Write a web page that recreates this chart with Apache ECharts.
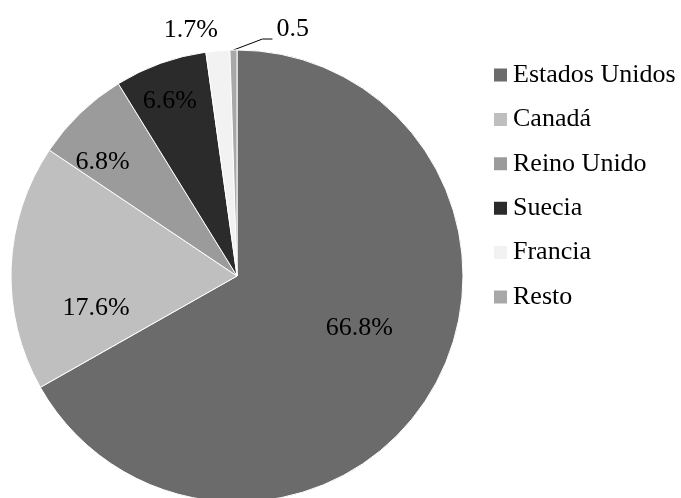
<!DOCTYPE html>
<html>
<head>
<meta charset="utf-8">
<script src="https://cdn.jsdelivr.net/npm/echarts@6/dist/echarts.min.js"></script>
<style>
html,body{margin:0;padding:0;background:#fff;}
#c{width:681px;height:498px;}
</style>
</head>
<body>
<div id="c"></div>
<script>
var categories = ['Estados Unidos', 'Canadá', 'Reino Unido', 'Suecia', 'Francia', 'Resto'];
var values = [66.8, 17.6, 6.8, 6.6, 1.7, 0.5];
var labelTexts = ['66.8%', '17.6%', '6.8%', '6.6%', '1.7%', '0.5'];
var colors = ['#6b6b6b', '#bfbfbf', '#9b9b9b', '#2b2b2b', '#f2f2f2', '#a8a8a8'];
var FONT = '"Liberation Serif", "Times New Roman", Times, serif';

// label shifts (from default inside position) for inside labels
var insideShift = [[22, -6], [-25, 37], [-54, -30], [-28, -66]];

var chart = echarts.init(document.getElementById('c'));
var data = categories.map(function (n, i) {
  var item = { name: n, value: values[i], itemStyle: { color: colors[i] } };
  if (i >= 4) {
    item.label = { position: 'outside' };
    item.labelLine = { show: i === 5, lineStyle: { color: '#000', width: 1 } };
  }
  return item;
});

chart.setOption({
  animation: false,
  legend: {
    orient: 'vertical',
    left: 492,
    top: 62,
    padding: 0,
    itemWidth: 15,
    itemHeight: 15,
    itemGap: 18.4,
    icon: 'rect',
    data: categories,
    textStyle: { fontFamily: FONT, fontSize: 26, color: '#000', lineHeight: 26 }
  },
  series: [{
    type: 'pie',
    center: [237, 276],
    radius: 226,
    startAngle: 90,
    clockwise: true,
    avoidLabelOverlap: false,
    itemStyle: { borderColor: '#ffffff', borderWidth: 1 },
    label: {
      show: true,
      position: 'inside',
      color: '#000',
      fontFamily: FONT,
      fontSize: 26,
      formatter: function (p) { return labelTexts[p.dataIndex]; }
    },
    labelLine: { show: false },
    labelLayout: function (p) {
      var i = p.dataIndex;
      if (i < 4) {
        return { dx: insideShift[i][0], dy: insideShift[i][1] };
      }
      var pts = p.labelLinePoints;
      var a = pts && pts[0] ? pts[0] : [p.rect.x + p.rect.width / 2, p.rect.y];
      if (i === 4) {
        return { x: a[0] - 27, y: a[1] - 21, align: 'center', verticalAlign: 'middle' };
      }
      return {
        x: a[0] + 43, y: a[1] - 21, align: 'left', verticalAlign: 'middle',
        labelLinePoints: [[a[0], a[1]], [a[0] + 29, a[1] - 11], [a[0] + 39, a[1] - 11]]
      };
    },
    data: data
  }]
});
</script>
</body>
</html>
